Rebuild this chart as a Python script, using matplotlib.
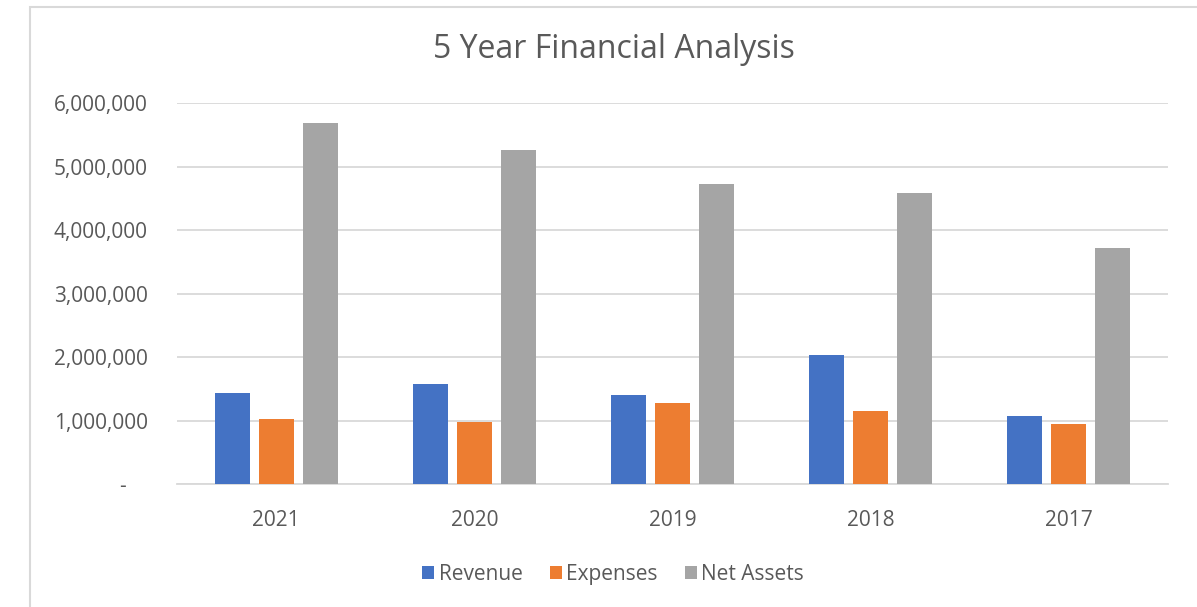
import numpy as np
import matplotlib.pyplot as plt
from matplotlib.patches import Rectangle
from matplotlib.ticker import FuncFormatter

years = ["2021", "2020", "2019", "2018", "2017"]
revenue = [1440000, 1570000, 1400000, 2030000, 1065000]
expenses = [1020000, 980000, 1275000, 1150000, 940000]
net_assets = [5690000, 5260000, 4720000, 4590000, 3710000]

series = [("Revenue", revenue, "#4472C4"),
          ("Expenses", expenses, "#ED7D31"),
          ("Net Assets", net_assets, "#A5A5A5")]

plt.rcParams['font.family'] = ['Open Sans', 'DejaVu Sans']
text_col = "#595959"
grid_col = "#D9D9D9"

fig = plt.figure(figsize=(11.97, 6.07), dpi=100)
ax = fig.add_axes([0.1479, 0.2026, 0.8279, 0.6277])

# chart border like Excel's chart area
fig.patches.append(Rectangle((30 / 1197, -0.1), 1.2, 1 - 7 / 607 + 0.1,
                             transform=fig.transFigure, fill=False,
                             edgecolor=grid_col, linewidth=1.5))

x = np.arange(len(years))
offsets = [-0.222, 0.0, 0.222]
width = 0.177
for (name, vals, col), off in zip(series, offsets):
    ax.bar(x + off, vals, width, color=col, label=name, zorder=3)

ax.set_xlim(-0.5, len(years) - 0.5)
ax.set_ylim(0, 6000000)
ax.set_yticks(np.arange(0, 6000001, 1000000))
ax.yaxis.set_major_formatter(FuncFormatter(
    lambda v, p: "-    " if v == 0 else f"{int(v):,}"))
ax.set_xticks(x)
ax.set_xticklabels(years)

ax.grid(axis='y', color=grid_col, linewidth=1.3, zorder=0)
for s in ["top", "right", "left"]:
    ax.spines[s].set_visible(False)
ax.spines["bottom"].set_color(grid_col)
ax.spines["bottom"].set_linewidth(1.3)
ax.tick_params(axis='both', length=0, colors=text_col, labelsize=15)
ax.tick_params(axis='y', pad=21)
ax.tick_params(axis='x', pad=19)

fig.text(0.513, 0.918, "5 Year Financial Analysis", ha='center', va='center',
         fontsize=23, color=text_col)

ax.legend(loc='upper center', bbox_to_anchor=(0.44, -0.16), ncol=3,
          frameon=False, fontsize=15, labelcolor=text_col,
          handlelength=0.6, handleheight=0.6, handletextpad=0.2,
          columnspacing=1.3)

fig.savefig("out.png", dpi=100)
